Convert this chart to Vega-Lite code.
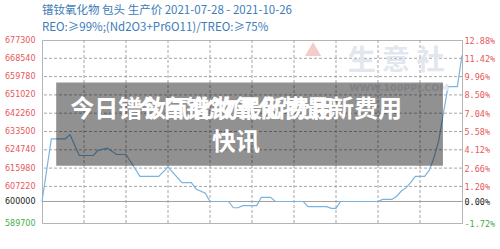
{
  "$schema": "https://vega.github.io/schema/vega-lite/v6.json",
  "width": 420,
  "height": 183,
  "autosize": {"type": "none"},
  "padding": {"left": 42, "top": 40, "right": 38, "bottom": 26},
  "background": "white",
  "config": {"view": {"stroke": "#b4b4b4", "strokeWidth": 1}, "font": "DejaVu Sans"},
  "title": {
    "text": ["镨钕氧化物 包头 生产价 2021-07-28 - 2021-10-26", "REO:≥99%;(Nd2O3+Pr6O11)/TREO:≥75%"],
    "anchor": "start",
    "frame": "group",
    "font": "Noto Sans CJK SC",
    "fontSize": 11.5,
    "fontWeight": "normal",
    "color": "#3d7cb8",
    "lineHeight": 17,
    "offset": 3
  },
  "datasets": {
    "prices": [
      {"date": "2021-07-28", "price": 600000},
      {"date": "2021-07-30", "price": 630000},
      {"date": "2021-08-02", "price": 630000},
      {"date": "2021-08-03", "price": 632000},
      {"date": "2021-08-05", "price": 622000},
      {"date": "2021-08-08", "price": 622000},
      {"date": "2021-08-09", "price": 624500},
      {"date": "2021-08-11", "price": 625500},
      {"date": "2021-08-13", "price": 622500},
      {"date": "2021-08-15", "price": 622500},
      {"date": "2021-08-18", "price": 612000},
      {"date": "2021-08-22", "price": 612000},
      {"date": "2021-08-24", "price": 616500},
      {"date": "2021-08-27", "price": 609000},
      {"date": "2021-08-29", "price": 609000},
      {"date": "2021-08-30", "price": 606000},
      {"date": "2021-09-01", "price": 604000},
      {"date": "2021-09-02", "price": 600000},
      {"date": "2021-09-06", "price": 600000},
      {"date": "2021-09-07", "price": 597000},
      {"date": "2021-09-08", "price": 597000},
      {"date": "2021-09-09", "price": 598000},
      {"date": "2021-09-12", "price": 598000},
      {"date": "2021-09-13", "price": 602000},
      {"date": "2021-09-15", "price": 602000},
      {"date": "2021-09-16", "price": 600000},
      {"date": "2021-09-22", "price": 600000},
      {"date": "2021-09-23", "price": 597500},
      {"date": "2021-09-27", "price": 597500},
      {"date": "2021-09-28", "price": 596700},
      {"date": "2021-09-29", "price": 596700},
      {"date": "2021-09-30", "price": 600000},
      {"date": "2021-10-08", "price": 600000},
      {"date": "2021-10-09", "price": 601000},
      {"date": "2021-10-11", "price": 601000},
      {"date": "2021-10-12", "price": 602500},
      {"date": "2021-10-13", "price": 605000},
      {"date": "2021-10-14", "price": 606500},
      {"date": "2021-10-15", "price": 609000},
      {"date": "2021-10-16", "price": 612000},
      {"date": "2021-10-18", "price": 612000},
      {"date": "2021-10-19", "price": 615000},
      {"date": "2021-10-20", "price": 621000},
      {"date": "2021-10-21", "price": 629000},
      {"date": "2021-10-22", "price": 642000},
      {"date": "2021-10-23", "price": 655000},
      {"date": "2021-10-25", "price": 655000},
      {"date": "2021-10-26", "price": 670000}
    ],
    "xgrid": [
      {"tick": "2021-08-06"}, {"tick": "2021-08-15"}, {"tick": "2021-08-24"}, {"tick": "2021-09-02"},
      {"tick": "2021-09-11"}, {"tick": "2021-09-20"}, {"tick": "2021-09-29"}, {"tick": "2021-10-08"},
      {"tick": "2021-10-17"}
    ],
    "ygrid": [
      {"level": 607220}, {"level": 615980}, {"level": 624740}, {"level": 633500},
      {"level": 642260}, {"level": 651020}, {"level": 659780}, {"level": 668540}
    ]
  },
  "data": {"name": "prices"},
  "layer": [
    {
      "data": {"name": "xgrid"},
      "mark": {"type": "rule", "color": "#a6a6a6", "strokeWidth": 1, "strokeDash": [3, 2]},
      "encoding": {
        "x": {"field": "tick", "type": "temporal", "scale": {"type": "utc", "domain": [{"year": 2021, "month": 7, "date": 28, "utc": true}, {"year": 2021, "month": 10, "date": 26, "utc": true}]}, "axis": null}
      }
    },
    {
      "data": {"name": "ygrid"},
      "mark": {"type": "rule", "color": "#a6a6a6", "strokeWidth": 1, "strokeDash": [3, 2]},
      "encoding": {
        "y": {"field": "level", "type": "quantitative", "scale": {"domain": [589700, 677300], "nice": false, "zero": false}, "axis": null}
      }
    },
    {
      "data": {"values": [{}]},
      "mark": {"type": "text", "text": "生   意   社", "font": "Noto Sans CJK SC", "fontSize": 28, "fontWeight": "bold", "color": "#e2e6ee", "align": "center", "baseline": "middle"},
      "encoding": {
        "x": {"datum": {"year": 2021, "month": 10, "date": 11, "hours": 21, "utc": true}, "type": "temporal", "axis": null},
        "y": {"datum": 667000, "type": "quantitative", "axis": null}
      }
    },
    {
      "data": {"values": [{}]},
      "mark": {"type": "point", "shape": "triangle-up", "filled": true, "size": 260, "color": "#f5cccc", "opacity": 1},
      "encoding": {
        "x": {"datum": {"year": 2021, "month": 9, "date": 24, "hours": 2, "utc": true}, "type": "temporal", "axis": null},
        "y": {"datum": 673000, "type": "quantitative", "axis": null}
      }
    },
    {
      "data": {"values": [{}]},
      "mark": {"type": "rule", "color": "#a0a0a0", "strokeWidth": 1},
      "encoding": {
        "y": {"datum": 600000, "type": "quantitative", "axis": null}
      }
    },
    {
      "mark": {"type": "line", "color": "#7ab3e0", "strokeWidth": 1.2, "interpolate": "linear"},
      "encoding": {
        "x": {
          "field": "date", "type": "temporal",
          "axis": {
            "title": null,
            "values": [
              {"year": 2021, "month": 7, "date": 28, "utc": true},
              {"year": 2021, "month": 8, "date": 6, "utc": true},
              {"year": 2021, "month": 8, "date": 15, "utc": true},
              {"year": 2021, "month": 8, "date": 24, "utc": true},
              {"year": 2021, "month": 9, "date": 2, "utc": true},
              {"year": 2021, "month": 9, "date": 11, "utc": true},
              {"year": 2021, "month": 9, "date": 20, "utc": true},
              {"year": 2021, "month": 9, "date": 29, "utc": true},
              {"year": 2021, "month": 10, "date": 8, "utc": true},
              {"year": 2021, "month": 10, "date": 17, "utc": true}
            ],
            "format": "%m/%d",
            "formatType": "utc",
            "ticks": false,
            "domain": false,
            "grid": false,
            "labelPadding": 10,
            "labelFont": "DejaVu Sans",
            "labelFontSize": 9,
            "labelColor": "#4f86bf",
            "labelFlush": false,
            "labelOverlap": false
          }
        },
        "y": {
          "field": "price", "type": "quantitative",
          "axis": {
            "title": null,
            "values": [589700, 600000, 607220, 615980, 624740, 633500, 642260, 651020, 659780, 668540, 677300],
            "format": "d",
            "ticks": false,
            "domain": false,
            "grid": false,
            "labelPadding": 7,
            "labelFont": "DejaVu Sans",
            "labelFontSize": 8,
            "labelFlush": false,
            "labelOverlap": false,
            "labelColor": {"expr": "datum.value > 600000 ? '#e8575a' : (datum.value < 600000 ? '#45ad45' : '#222222')"}
          }
        }
      }
    },
    {
      "data": {"values": [{}]},
      "mark": {"type": "text", "text": "WWW.100PPI.COM", "font": "DejaVu Sans", "fontSize": 9.5, "fontWeight": "bold", "color": "#dfe3ea", "align": "center", "baseline": "middle"},
      "encoding": {
        "x": {"datum": {"year": 2021, "month": 10, "date": 12, "hours": 12, "utc": true}, "type": "temporal", "axis": null},
        "y": {"datum": 654500, "type": "quantitative", "axis": null}
      }
    },
    {
      "data": {"values": [{}]},
      "mark": {"type": "rect", "color": "#000000", "opacity": 0.43},
      "encoding": {
        "x": {"datum": {"year": 2021, "month": 7, "date": 31, "hours": 1, "utc": true}, "type": "temporal", "axis": null},
        "x2": {"datum": {"year": 2021, "month": 10, "date": 21, "hours": 22, "utc": true}},
        "y": {"datum": 657000, "type": "quantitative", "axis": null},
        "y2": {"datum": 617100}
      }
    },
    {
      "data": {"values": [{}]},
      "mark": {"type": "text", "text": "今日镨钕氧化物最新费用", "font": "Noto Sans CJK SC", "fontSize": 24, "fontWeight": "bold", "color": "#ffffff", "align": "left", "baseline": "middle"},
      "encoding": {
        "x": {"datum": {"year": 2021, "month": 8, "date": 3, "hours": 1, "utc": true}, "type": "temporal", "axis": null},
        "y": {"datum": 644000, "type": "quantitative", "axis": null}
      }
    },
    {
      "data": {"values": [{}]},
      "mark": {"type": "text", "text": "今日镨钕氧化物最新费用", "font": "Noto Sans CJK SC", "fontSize": 24, "fontWeight": "bold", "color": "#ffffff", "align": "right", "baseline": "middle"},
      "encoding": {
        "x": {"datum": {"year": 2021, "month": 10, "date": 13, "hours": 4, "utc": true}, "type": "temporal", "axis": null},
        "y": {"datum": 644000, "type": "quantitative", "axis": null}
      }
    },
    {
      "data": {"values": [{}]},
      "mark": {"type": "text", "text": "快讯", "font": "Noto Sans CJK SC", "fontSize": 24, "fontWeight": "bold", "color": "#ffffff", "align": "center", "baseline": "middle"},
      "encoding": {
        "x": {"datum": {"year": 2021, "month": 9, "date": 7, "hours": 14, "utc": true}, "type": "temporal", "axis": null},
        "y": {"datum": 628000, "type": "quantitative", "axis": null}
      }
    },
    {
      "mark": {"type": "line", "opacity": 0},
      "encoding": {
        "x": {"field": "date", "type": "temporal", "axis": null},
        "y": {
          "field": "price", "type": "quantitative",
          "axis": {
            "orient": "right",
            "title": null,
            "values": [589700, 600000, 607220, 615980, 624740, 633500, 642260, 651020, 659780, 668540, 677300],
            "labelExpr": "replace(format((datum.value - 600000) / 6000, '.2f'), '\u2212', '-') + '%'",
            "ticks": false,
            "domain": false,
            "grid": false,
            "labelPadding": 2,
            "labelFont": "DejaVu Sans Mono",
            "labelFontSize": 8.5,
            "labelFlush": false,
            "labelOverlap": false,
            "labelColor": {"expr": "datum.value > 600000 ? '#e8575a' : (datum.value < 600000 ? '#45ad45' : '#222222')"}
          }
        }
      }
    }
  ],
  "resolve": {"axis": {"y": "independent"}}
}
